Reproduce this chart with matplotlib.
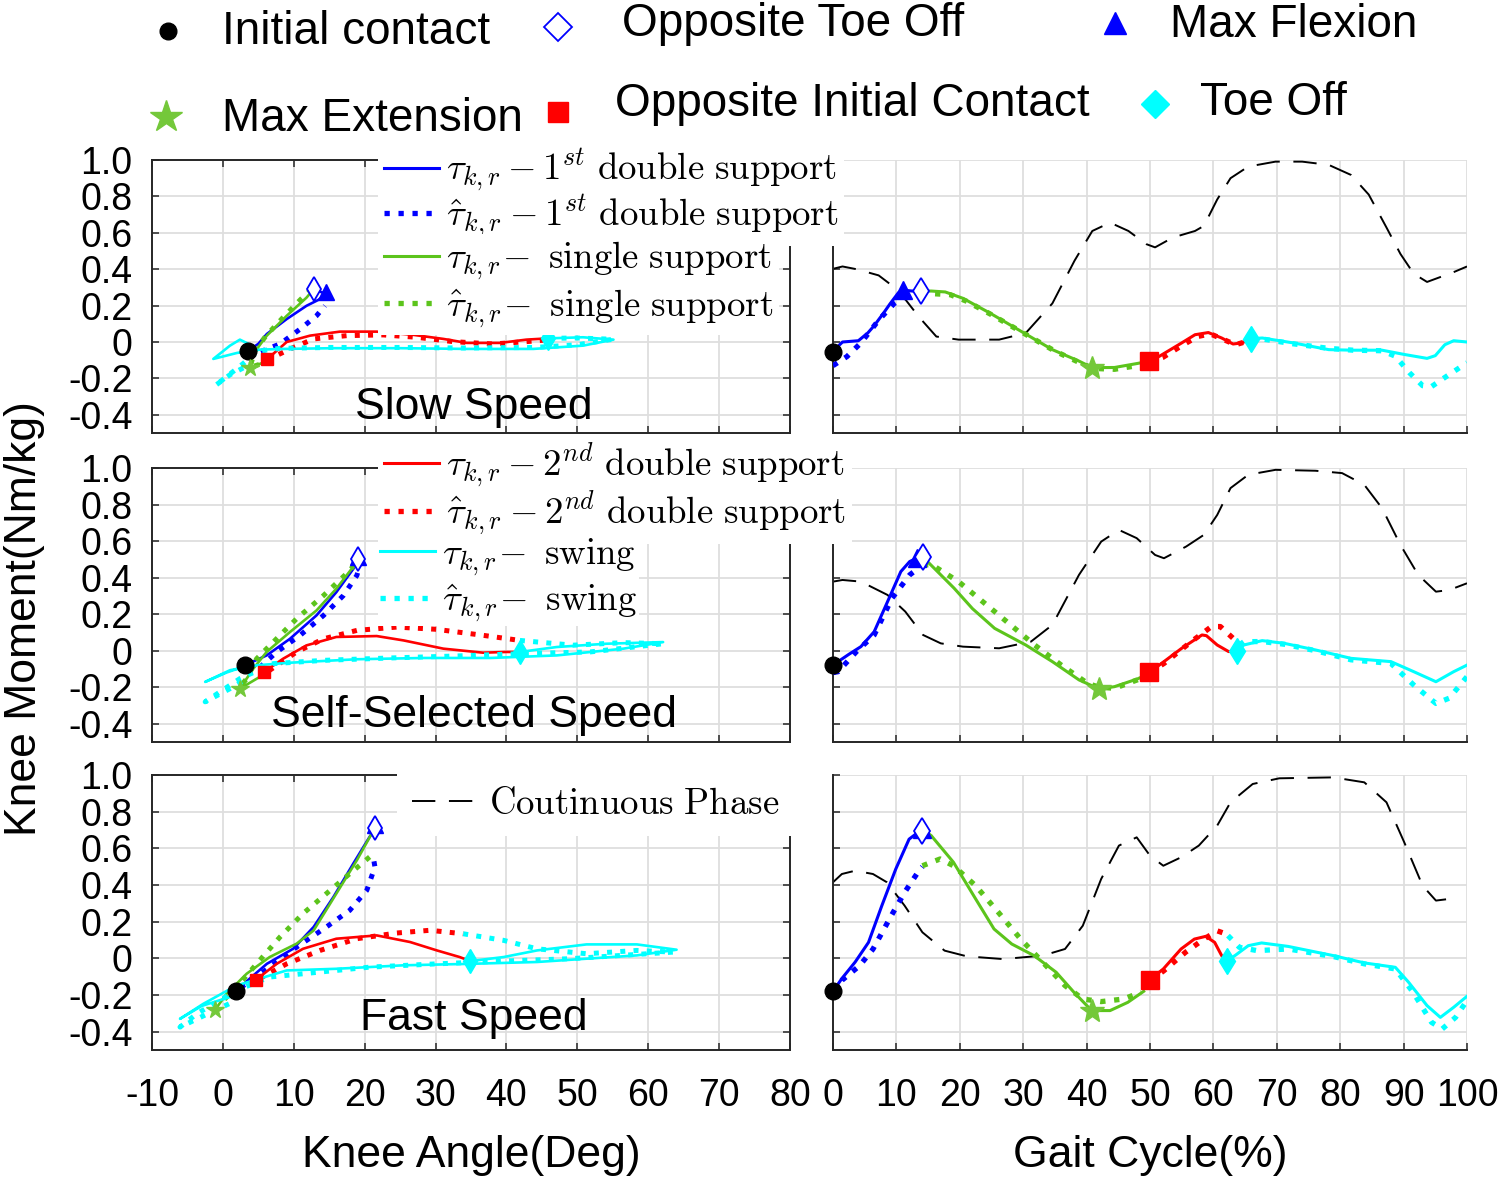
import matplotlib
matplotlib.use('Agg')
import matplotlib.pyplot as plt
from matplotlib.lines import Line2D

plt.rcParams['font.family'] = ['Liberation Sans', 'DejaVu Sans']
plt.rcParams['mathtext.fontset'] = 'cm'

# ---------------- labels / ticks ----------------
SPEED_NAMES = ['Slow Speed', 'Self-Selected Speed', 'Fast Speed']
LEFT_XTICKS = [-10, 0, 10, 20, 30, 40, 50, 60, 70, 80]
LEFT_XTICK_LABELS = ['-10', '0', '10', '20', '30', '40', '50', '60', '70', '80']
RIGHT_XTICKS = [0, 10, 20, 30, 40, 50, 60, 70, 80, 90, 100]
RIGHT_XTICK_LABELS = ['0', '10', '20', '30', '40', '50', '60', '70', '80', '90', '100']
YTICKS = [-0.4, -0.2, 0.0, 0.2, 0.4, 0.6, 0.8, 1.0]
YTICK_LABELS = ['-0.4', '-0.2', '0', '0.2', '0.4', '0.6', '0.8', '1.0']
EVENT_NAMES = ['Initial contact', 'Opposite Toe Off', 'Max Flexion',
               'Max Extension', 'Opposite Initial Contact', 'Toe Off']
PHASE_LABELS = [r'$\tau_{k,r} - 1^{st}\ \mathrm{double\ support}\ $',
                r'$\hat{\tau}_{k,r} - 1^{st}\ \mathrm{double\ support}\ $',
                r'$\tau_{k,r}\!-\ \mathrm{single\ support}$',
                r'$\hat{\tau}_{k,r}\!-\ \mathrm{single\ support}$',
                r'$\tau_{k,r} - 2^{nd}\ \mathrm{double\ support}\ $',
                r'$\hat{\tau}_{k,r} - 2^{nd}\ \mathrm{double\ support}\ $',
                r'$\tau_{k,r}\!-\ \mathrm{swing}$',
                r'$\hat{\tau}_{k,r}\!-\ \mathrm{swing}$']
PHASE_LINE_LABEL = r'$\mathrm{Coutinuous\ Phase}\ $'

# ================= SLOW : gait cycle (%) =================
slow_g_blue_x = [0, 1.5, 4.0, 5.5, 6.5, 8.0, 9.0, 10.3, 11.0, 12.5, 13.9]
slow_g_blue_y = [-0.05, 0.0, 0.007, 0.05, 0.09, 0.16, 0.21, 0.27, 0.285, 0.28, 0.28]
slow_g_blueh_x = [0, 2.2, 4.4, 7.2, 9.6, 12.1, 13.9]
slow_g_blueh_y = [-0.13, -0.08, -0.005, 0.12, 0.21, 0.265, 0.28]
slow_g_green_x = [13.9, 15.5, 17.7, 20.5, 24.8, 29.7, 34.6, 38.8, 40.9, 44.4, 48, 49.9]
slow_g_green_y = [0.28, 0.28, 0.275, 0.24, 0.158, 0.058, -0.042, -0.105, -0.141, -0.14, -0.118, -0.105]
slow_g_greenh_x = [13.9, 16, 18.5, 21, 25, 30, 35, 39, 41, 44.4, 48, 49.9]
slow_g_greenh_y = [0.27, 0.265, 0.26, 0.225, 0.15, 0.05, -0.05, -0.115, -0.145, -0.15, -0.13, -0.11]
slow_g_red_x = [49.9, 51.5, 55, 57.1, 59.2, 61.3, 63.1, 64.5, 65.9]
slow_g_red_y = [-0.105, -0.078, -0.005, 0.04, 0.052, 0.022, -0.011, -0.005, 0.018]
slow_g_redh_x = [49.9, 52, 55, 57.5, 59.5, 61.5, 63.5, 65.9]
slow_g_redh_y = [-0.11, -0.085, -0.02, 0.03, 0.045, 0.015, -0.015, 0.01]
slow_g_cyan_x = [65.9, 67.7, 72.6, 78.2, 82, 86.6, 90.2, 93.7, 95, 96.5, 97.9, 100]
slow_g_cyan_y = [0.018, 0.022, -0.005, -0.042, -0.045, -0.045, -0.069, -0.09, -0.075, -0.015, 0.007, 0.0]
slow_g_cyanh_x = [65.9, 68, 72.6, 78.2, 82, 86.6, 88.7, 90.9, 93, 94.4, 96.5, 100]
slow_g_cyanh_y = [0.02, 0.015, -0.01, -0.035, -0.045, -0.048, -0.078, -0.168, -0.24, -0.245, -0.195, -0.114]
slow_g_phase_x = [0, 1.5, 3.7, 7.2, 10.3, 13.5, 16.3, 19.8, 26.2, 30.4, 34.6, 38.1, 40.9, 43.7, 46.6,
                  49.4, 50.8, 53.6, 57.1, 58.5, 60.6, 62.7, 65.5, 69.8, 74, 78.2, 81.7, 84.5, 87.3,
                  89.5, 91.6, 93.7, 95.8, 97.9, 100]
slow_g_phase_y = [0.402, 0.415, 0.40, 0.366, 0.284, 0.14, 0.03, 0.013, 0.013, 0.049, 0.212, 0.447, 0.61,
                  0.656, 0.61, 0.538, 0.52, 0.574, 0.61, 0.638, 0.783, 0.9, 0.964, 0.991, 0.991, 0.973,
                  0.918, 0.81, 0.629, 0.484, 0.375, 0.33, 0.357, 0.384, 0.415]
# events: IC, opp toe off, max flex, max ext, opp IC, toe off
slow_g_event_x = [0, 13.9, 11.0, 40.9, 49.9, 65.9]
slow_g_event_y = [-0.054, 0.28, 0.285, -0.141, -0.105, 0.018]

# ================= SLOW : knee angle (deg) =================
slow_a_blue_x = [3.6, 5.0, 6.2, 9.0, 11.8, 13.5, 14.5, 12.8]
slow_a_blue_y = [-0.047, -0.01, 0.044, 0.126, 0.199, 0.232, 0.265, 0.29]
slow_a_blueh_x = [3.6, 5.7, 8.05, 10.9, 13.2, 14.4]
slow_a_blueh_y = [-0.08, -0.047, -0.011, 0.071, 0.144, 0.199]
slow_a_green_x = [12.8, 11.8, 9.0, 6.2, 4.8, 4.0, 3.8, 6.2]
slow_a_green_y = [0.29, 0.244, 0.144, 0.035, -0.038, -0.1, -0.142, -0.105]
slow_a_greenh_x = [12.5, 11.0, 8.5, 6.0, 4.5, 3.8, 6.2]
slow_a_greenh_y = [0.29, 0.235, 0.135, 0.03, -0.05, -0.14, -0.11]
slow_a_red_x = [6.2, 9, 12.3, 16.5, 21.7, 26.9, 31.1, 34.4, 39.1, 42.8, 45.9]
slow_a_red_y = [-0.096, 0.0, 0.035, 0.057, 0.057, 0.039, 0.017, -0.005, -0.005, 0.013, 0.02]
slow_a_redh_x = [6.2, 9.5, 12.8, 17.5, 22.6, 27.3, 32.5, 38.1, 42.8, 45.9]
slow_a_redh_y = [-0.1, -0.038, 0.017, 0.035, 0.039, 0.026, 0.002, -0.011, 0.002, 0.012]
slow_a_cyan_x = [45.9, 50.8, 55.1, 50.8, 43.8, 34.4, 25, 15.6, 8.5, 5.2, 2.0, -1.35, 1.0, 2.4, 3.6]
slow_a_cyan_y = [0.02, 0.026, 0.013, -0.02, -0.038, -0.038, -0.034, -0.034, -0.038, -0.042, -0.06,
                 -0.093, -0.02, 0.013, -0.01]
slow_a_cyanh_x = [45.9, 50, 55, 50, 44, 34, 25, 15, 8, 5, 2.5, -1.1, 1.0, 3.0]
slow_a_cyanh_y = [0.02, 0.022, 0.015, -0.015, -0.03, -0.033, -0.03, -0.03, -0.035, -0.05, -0.13,
                  -0.24, -0.18, -0.14]
slow_a_event_x = [3.6, 12.8, 14.5, 3.8, 6.2, 45.9]
slow_a_event_y = [-0.047, 0.29, 0.275, -0.142, -0.096, 0.02]

# ================= SELF-SELECTED : gait cycle =================
mid_g_blue_x = [0, 0.8, 2.5, 4.4, 6.5, 8.6, 10.7, 12.1, 13.2, 14.2]
mid_g_blue_y = [-0.08, -0.06, -0.02, 0.022, 0.104, 0.268, 0.433, 0.488, 0.506, 0.51]
mid_g_blueh_x = [0, 0.8, 3.7, 6.5, 9.3, 12.1, 14.2]
mid_g_blueh_y = [-0.12, -0.115, -0.005, 0.086, 0.287, 0.415, 0.47]
mid_g_green_x = [14.2, 14.9, 19.1, 22, 25.5, 30.4, 34.6, 38.8, 42, 44.4, 48, 49.9]
mid_g_green_y = [0.51, 0.488, 0.342, 0.23, 0.122, 0.031, -0.06, -0.16, -0.21, -0.197, -0.155, -0.125]
mid_g_greenh_x = [14.2, 15.6, 19.8, 25.5, 31.8, 36, 40.2, 42, 44.4, 48, 49.9]
mid_g_greenh_y = [0.47, 0.47, 0.378, 0.214, 0.031, -0.079, -0.18, -0.2, -0.206, -0.16, -0.13]
mid_g_red_x = [49.9, 52.2, 55, 58.2, 58.9, 60.6, 62.4, 63.8]
mid_g_red_y = [-0.119, -0.06, 0.013, 0.086, 0.082, 0.031, -0.005, -0.002]
mid_g_redh_x = [49.9, 52.2, 56.5, 59.7, 61.1, 63.1, 64.1]
mid_g_redh_y = [-0.12, -0.07, 0.049, 0.132, 0.132, 0.068, 0.031]
mid_g_cyan_x = [63.8, 64.8, 67.7, 71.2, 76.1, 81.7, 88, 91.6, 95.1, 97.9, 100]
mid_g_cyan_y = [-0.002, 0.031, 0.055, 0.04, 0.004, -0.042, -0.06, -0.115, -0.17, -0.115, -0.079]
mid_g_cyanh_x = [64.1, 64.8, 67.7, 71.2, 76.1, 81.7, 88, 91.6, 95.1, 97.2, 100]
mid_g_cyanh_y = [0.031, 0.049, 0.05, 0.035, 0.0, -0.05, -0.07, -0.188, -0.289, -0.26, -0.142]
mid_g_phase_x = [0, 1.5, 4.4, 8.6, 11.4, 14.2, 17, 20.5, 26.2, 31.2, 34.6, 38.8, 42.3, 45.1, 47.9,
                 50.8, 52.2, 55.7, 58.5, 60.6, 62.7, 65.5, 69.8, 76.1, 80.3, 83.8, 86.6, 89.5, 92.3,
                 95.1, 97.2, 100]
mid_g_phase_y = [0.378, 0.387, 0.378, 0.305, 0.214, 0.086, 0.04, 0.022, 0.013, 0.049, 0.141, 0.415,
                 0.597, 0.661, 0.616, 0.524, 0.506, 0.57, 0.634, 0.743, 0.89, 0.963, 0.99, 0.985,
                 0.972, 0.908, 0.78, 0.579, 0.415, 0.323, 0.332, 0.369]
mid_g_event_x = [0, 14.2, 13.2, 42, 49.9, 63.8]
mid_g_event_y = [-0.08, 0.515, 0.506, -0.21, -0.119, -0.002]

# ================= SELF-SELECTED : knee angle =================
mid_a_blue_x = [3.1, 6.17, 9.46, 13.2, 16.0, 18.4, 19.1]
mid_a_blue_y = [-0.08, -0.026, 0.065, 0.193, 0.32, 0.448, 0.5]
mid_a_blueh_x = [3.5, 4.76, 7.6, 10.9, 14.2, 17, 18.9, 19.3]
mid_a_blueh_y = [-0.12, -0.107, -0.007, 0.084, 0.193, 0.302, 0.412, 0.466]
mid_a_green_x = [19.0, 18.4, 16, 13.2, 9.46, 6.17, 4.3, 2.4, 5.8]
mid_a_green_y = [0.5, 0.46, 0.339, 0.22, 0.102, -0.007, -0.098, -0.208, -0.13]
mid_a_greenh_x = [18.5, 17.9, 14.2, 10.4, 7.1, 4.76, 3.35, 2.4]
mid_a_greenh_y = [0.47, 0.439, 0.302, 0.175, 0.047, -0.044, -0.153, -0.2]
mid_a_red_x = [5.8, 8.5, 11.8, 16, 21.7, 25.5, 31.1, 36.7, 40, 41.9]
mid_a_red_y = [-0.117, -0.044, 0.029, 0.075, 0.08, 0.056, 0.011, -0.011, -0.007, -0.007]
mid_a_redh_x = [6.5, 10.4, 14.2, 18.9, 24.5, 30.1, 36.7, 41.9]
mid_a_redh_y = [-0.11, -0.007, 0.065, 0.111, 0.129, 0.117, 0.084, 0.056]
mid_a_cyan_x = [41.9, 47.1, 54.1, 62.1, 56.5, 47.1, 37.7, 28.3, 18.9, 9.46, 4.76, 1.0, -2.5, 0.5, 3.1]
mid_a_cyan_y = [-0.007, 0.02, 0.038, 0.047, 0.011, -0.026, -0.04, -0.04, -0.047, -0.066, -0.08,
                -0.107, -0.171, -0.12, -0.085]
mid_a_cyanh_x = [41.9, 49.4, 56.5, 62.1, 51.8, 42.4, 33, 23.6, 14.2, 7.1, 2.4, -2.5, 1.0, 3.1]
mid_a_cyanh_y = [0.056, 0.03, 0.044, 0.038, -0.007, -0.016, -0.029, -0.04, -0.053, -0.071, -0.153,
                 -0.28, -0.208, -0.16]
mid_a_event_x = [3.1, 19.0, 19.1, 2.4, 5.8, 41.9]
mid_a_event_y = [-0.08, 0.5, 0.512, -0.208, -0.117, -0.007]

# ================= FAST : gait cycle =================
fast_g_blue_x = [0, 1.4, 3.5, 5.6, 7.7, 9.9, 12, 14.1]
fast_g_blue_y = [-0.18, -0.11, -0.02, 0.087, 0.287, 0.487, 0.65, 0.705]
fast_g_blueh_x = [0, 1.4, 4.2, 6.3, 9.2, 11.3, 13.4, 14.1]
fast_g_blueh_y = [-0.18, -0.12, -0.04, 0.05, 0.233, 0.36, 0.47, 0.5]
fast_g_green_x = [14.1, 15.5, 19, 22.5, 25.4, 28.2, 31.7, 35.2, 38, 40.8, 43.7, 46.5, 49]
fast_g_green_y = [0.705, 0.669, 0.524, 0.324, 0.16, 0.078, 0.015, -0.076, -0.185, -0.285, -0.285,
                  -0.24, -0.18]
fast_g_greenh_x = [14.1, 16.9, 19, 22.5, 26.1, 29.6, 33.1, 36.6, 39.4, 42.3, 45.8, 48.6]
fast_g_greenh_y = [0.505, 0.542, 0.505, 0.396, 0.25, 0.105, -0.022, -0.149, -0.222, -0.236, -0.222,
                   -0.185]
fast_g_red_x = [50, 52.1, 54.9, 57, 58.8, 60.2, 61.3, 62.1]
fast_g_red_y = [-0.116, -0.058, 0.051, 0.105, 0.12, 0.087, 0.015, -0.013]
fast_g_redh_x = [50, 52.1, 55.6, 58.5, 60.6, 62, 62.3]
fast_g_redh_y = [-0.12, -0.07, 0.033, 0.105, 0.15, 0.133, 0.124]
fast_g_cyan_x = [62.1, 63.4, 65.5, 67.6, 71.8, 78.9, 83.8, 88.7, 90.8, 93.7, 95.8, 97.9, 100]
fast_g_cyan_y = [-0.013, 0.015, 0.069, 0.084, 0.065, 0.015, -0.025, -0.049, -0.131, -0.258, -0.322,
                 -0.267, -0.207]
fast_g_cyanh_x = [62.3, 64.1, 66.9, 71.8, 78.9, 83.8, 88.7, 91.5, 94.4, 96.1, 98.2, 100]
fast_g_cyanh_y = [0.124, 0.06, 0.042, 0.051, 0.01, -0.03, -0.058, -0.185, -0.349, -0.385, -0.322, -0.23]
fast_g_phase_x = [0, 1.4, 3.5, 6.3, 8.5, 11.3, 14.1, 17.6, 21.1, 26.8, 33.1, 36.6, 39.4, 42.3, 45.1,
                  47.9, 50, 52.1, 54.9, 57.7, 60.6, 62.7, 66.2, 70.4, 78.9, 83.8, 87.3, 90.1, 93,
                  95.1, 97.2, 98.6]
fast_g_phase_y = [0.415, 0.46, 0.478, 0.46, 0.415, 0.287, 0.142, 0.042, 0.011, -0.004, 0.015, 0.051,
                  0.178, 0.433, 0.615, 0.66, 0.56, 0.505, 0.551, 0.615, 0.724, 0.851, 0.951, 0.982,
                  0.987, 0.96, 0.851, 0.633, 0.396, 0.315, 0.324, 0.351]
fast_g_event_x = [0, 14.1, 14.1, 40.8, 50, 62.1]
fast_g_event_y = [-0.18, 0.696, 0.705, -0.285, -0.116, -0.013]

# ================= FAST : knee angle =================
fast_a_blue_x = [1.85, 3.5, 6.2, 9.9, 12.8, 15.6, 18.4, 20.7, 21.45]
fast_a_blue_y = [-0.179, -0.12, -0.03, 0.052, 0.171, 0.335, 0.517, 0.663, 0.7]
fast_a_blueh_x = [2.5, 6.6, 10.4, 14.6, 17.9, 20.3, 21.45, 21.2]
fast_a_blueh_y = [-0.16, -0.048, 0.061, 0.171, 0.262, 0.371, 0.499, 0.553]
fast_a_green_x = [21.4, 20.7, 18.9, 16.0, 12.8, 10.4, 6.6, 3.35, 0.53, -1.11]
fast_a_green_y = [0.71, 0.66, 0.535, 0.353, 0.152, 0.08, 0.007, -0.084, -0.193, -0.281]
fast_a_greenh_x = [20.7, 17.9, 14.6, 11.3, 8.05, 4.76, 1.94, -0.41]
fast_a_greenh_y = [0.553, 0.462, 0.353, 0.244, 0.116, -0.03, -0.157, -0.248]
fast_a_red_x = [4.67, 7.58, 11.3, 16.0, 21.7, 26.4, 30.2, 33.4, 34.9]
fast_a_red_y = [-0.117, -0.03, 0.052, 0.107, 0.125, 0.089, 0.043, 0.007, -0.015]
fast_a_redh_x = [5.2, 9.0, 13.7, 18.9, 24.5, 29.2, 33.9]
fast_a_redh_y = [-0.11, -0.03, 0.043, 0.107, 0.138, 0.153, 0.134]
fast_a_cyan_x = [34.9, 39.6, 44.3, 51.3, 58.4, 64, 58.4, 51.3, 44.3, 34.9, 25.5, 16, 9, 1.94, -2.76,
                 -6.05, -3.0, 1.85]
fast_a_cyan_y = [-0.015, 0.007, 0.043, 0.076, 0.076, 0.047, 0.016, -0.002, -0.02, -0.03, -0.038,
                 -0.057, -0.066, -0.148, -0.248, -0.33, -0.26, -0.2]
fast_a_cyanh_x = [33.9, 39.6, 44.3, 51.3, 58.4, 63.5, 49, 39.6, 30.2, 20.7, 11.3, 6.6, 1.94, -3.7,
                  -6.05, -2.0, 1.85]
fast_a_cyanh_y = [0.134, 0.098, 0.052, 0.025, 0.043, 0.034, -0.002, -0.015, -0.03, -0.048, -0.084,
                  -0.102, -0.175, -0.303, -0.375, -0.3, -0.23]
fast_a_event_x = [1.85, 21.4, 21.45, -1.11, 4.67, 34.9]
fast_a_event_y = [-0.179, 0.71, 0.726, -0.281, -0.117, -0.015]

# ---------------- assemble ----------------
def phases(prefix):
    g = globals()
    out = []
    for name in ['blue', 'green', 'red', 'cyan']:
        out.append((g[prefix + name + '_x'], g[prefix + name + '_y'],
                    g[prefix + name + 'h_x'], g[prefix + name + 'h_y']))
    return out

SPEEDS = [
    dict(ang=phases('slow_a_'), gait=phases('slow_g_'),
         aev=(slow_a_event_x, slow_a_event_y), gev=(slow_g_event_x, slow_g_event_y),
         phase=(slow_g_phase_x, slow_g_phase_y)),
    dict(ang=phases('mid_a_'), gait=phases('mid_g_'),
         aev=(mid_a_event_x, mid_a_event_y), gev=(mid_g_event_x, mid_g_event_y),
         phase=(mid_g_phase_x, mid_g_phase_y)),
    dict(ang=phases('fast_a_'), gait=phases('fast_g_'),
         aev=(fast_a_event_x, fast_a_event_y), gev=(fast_g_event_x, fast_g_event_y),
         phase=(fast_g_phase_x, fast_g_phase_y)),
]

PH_COLORS = ['#0000FF', '#5CC41C', '#FF0000', '#00FFFF']
STAR_COLOR = '#74C83A'
AX_COLOR = '#262626'
GRID_COLOR = '#dedede'

W, H = 1500, 1180
def rect(x0, y0, x1, y1):
    return [x0 / W, 1 - y1 / H, (x1 - x0) / W, (y1 - y0) / H]

ROWS = [(160, 433), (468, 742), (775, 1050)]
LX = (152, 790)
RX = (833, 1467)

fig = plt.figure(figsize=(15, 11.8), dpi=100)

def style_axes(ax, right):
    ax.set_ylim(-0.5, 1.0)
    ax.set_yticks(YTICKS)
    ax.grid(True, color=GRID_COLOR, lw=1.3)
    ax.set_axisbelow(True)
    ax.tick_params(direction='in', length=5, width=1.1, color=AX_COLOR,
                   labelsize=27, labelcolor='black', pad=14,
                   top=not right, right=not right)
    for s in ax.spines.values():
        s.set_color(AX_COLOR)
        s.set_linewidth(1.4)
    if right:
        ax.spines['top'].set_visible(False)
        ax.spines['right'].set_visible(False)

def draw_events(ax, ev, sizes):
    ex, ey = ev
    kw = dict(ls='none', clip_on=False, zorder=6)
    ax.plot(ex[0], ey[0], marker='o', color='black', ms=sizes[0], **kw)
    ax.plot(ex[2], ey[2], marker='^', color='#0000FF', ms=sizes[1], **kw)
    ax.plot(ex[1], ey[1], marker='d', mfc='white', mec='#0000FF', mew=1.3, ms=sizes[2], **kw)
    ax.plot(ex[3], ey[3], marker='*', color=STAR_COLOR, ms=sizes[3], **kw)
    ax.plot(ex[4], ey[4], marker='s', color='#FF0000', ms=sizes[4], **kw)
    ax.plot(ex[5], ey[5], marker='d', color='#00FFFF', ms=sizes[5], **kw)

handles = []
phase_handle = None
for i, sp in enumerate(SPEEDS):
    y0, y1 = ROWS[i]
    axl = fig.add_axes(rect(LX[0], y0, LX[1], y1))
    axr = fig.add_axes(rect(RX[0], y0, RX[1], y1))
    style_axes(axl, False)
    style_axes(axr, True)
    axl.set_xlim(-10, 80)
    axl.set_xticks(LEFT_XTICKS)
    axr.set_xlim(0, 100)
    axr.set_xticks(RIGHT_XTICKS)
    axl.set_yticklabels(YTICK_LABELS)
    axr.set_yticklabels([])
    if i == 2:
        axl.set_xticklabels(LEFT_XTICK_LABELS)
        axr.set_xticklabels(RIGHT_XTICK_LABELS)
        axl.tick_params(axis='x', pad=20)
        axr.tick_params(axis='x', pad=20)
        axl.set_xlabel('Knee Angle(Deg)', fontsize=32, labelpad=15)
        axr.set_xlabel('Gait Cycle(%)', fontsize=32, labelpad=15)
    else:
        axl.set_xticklabels([])
        axr.set_xticklabels([])

    px, py = sp['phase']
    ph, = axr.plot(px, py, color='black', lw=1.4, ls=(0, (12, 7)), zorder=2)
    phase_handle = ph

    row_handles = []
    for (x, y, xh, yh), c in zip(sp['ang'], PH_COLORS):
        axl.plot(x, y, color=c, lw=1.9, zorder=3)
        axl.plot(xh, yh, color=c, lw=3.6, ls=':', zorder=3)
    for (x, y, xh, yh), c in zip(sp['gait'], PH_COLORS):
        l1, = axr.plot(x, y, color=c, lw=2.2, zorder=3)
        l2, = axr.plot(xh, yh, color=c, lw=3.8, ls=':', zorder=3)
        row_handles += [l1, l2]
    handles = row_handles

    draw_events(axl, sp['aev'], [12, 11, 12, 13, 9, 12])
    draw_events(axr, sp['gev'], [12, 12.5, 13.5, 18, 13, 13])

    ty = [0.095, 0.095, 0.115][i]
    axl.text(0.505, ty, SPEED_NAMES[i], transform=axl.transAxes, ha='center', va='center',
             fontsize=32, zorder=7)

# ---- phase legends (figure level so they overlay both axes) ----
leg_kw = dict(loc='upper left', frameon=True, facecolor='white', edgecolor='none', framealpha=1,
              fancybox=False, fontsize=26.5, handlelength=1.5, handletextpad=0.2,
              borderaxespad=0)
fig.legend(handles[0:2], PHASE_LABELS[0:2], bbox_to_anchor=(378 / W, 1 - 141 / H),
           labelspacing=-0.1, borderpad=0.15, **leg_kw)
fig.legend(handles[2:4], PHASE_LABELS[2:4], bbox_to_anchor=(378 / W, 1 - 234 / H),
           labelspacing=0.12, borderpad=0.15, **leg_kw)
fig.legend(handles[4:6], PHASE_LABELS[4:6], bbox_to_anchor=(378 / W, 1 - 435 / H),
           labelspacing=-0.08, borderpad=0.15, **leg_kw)
fig.legend(handles[6:8], PHASE_LABELS[6:8], bbox_to_anchor=(378 / W, 1 - 534 / H),
           labelspacing=0.12, borderpad=0.05, **leg_kw)
fig.legend([phase_handle], [PHASE_LINE_LABEL], bbox_to_anchor=(397 / W, 1 - 772 / H),
           labelspacing=0.0, borderpad=0.4, **dict(leg_kw, handlelength=1.9))

# ---- event legend at top ----
EV_MARKERS = [dict(marker='o', color='black', ms=12),
              dict(marker='D', mfc='white', mec='#0000FF', mew=1.3, ms=14),
              dict(marker='^', color='#0000FF', ms=16),
              dict(marker='*', color=STAR_COLOR, ms=24),
              dict(marker='s', color='#FF0000', ms=15),
              dict(marker='D', color='#00FFFF', ms=14)]
EV_MPOS = [(168, 31), (558, 27), (1115, 23), (166, 117), (558, 112), (1155, 104)]
EV_TPOS = [(222, 44), (622, 36), (1170, 37), (222, 131), (615, 116), (1200, 115)]
for m, (mx, my), (tx, ty), name in zip(EV_MARKERS, EV_MPOS, EV_TPOS, EVENT_NAMES):
    fig.add_artist(Line2D([mx / W], [1 - my / H], transform=fig.transFigure, ls='none', **m))
    fig.text(tx / W, 1 - ty / H, name, fontsize=33, ha='left', va='baseline')

fig.text(25 / W, 1 - 619 / H, 'Knee Moment(Nm/kg)', rotation=90, fontsize=32,
         ha='center', va='center')

fig.savefig('out.png', dpi=100)
